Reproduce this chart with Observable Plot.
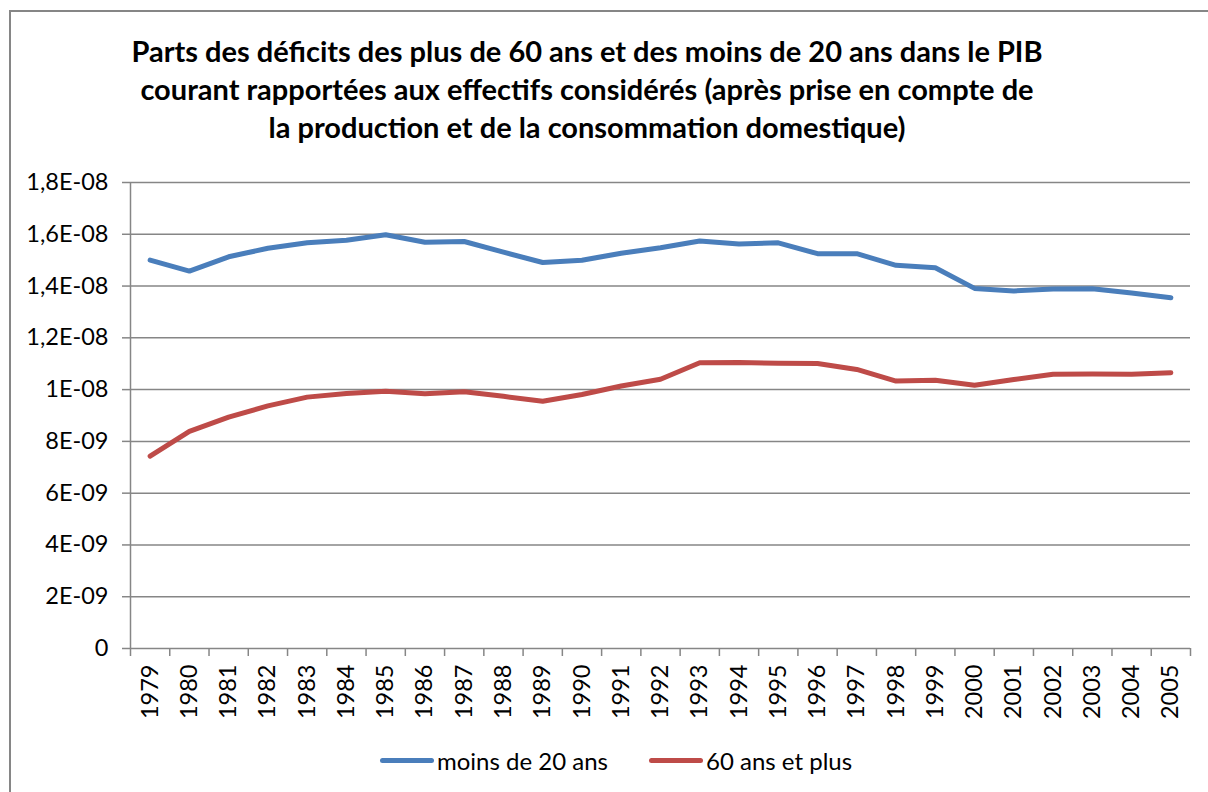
<!DOCTYPE html>
<html>
<head>
<meta charset="utf-8">
<script src="https://cdn.jsdelivr.net/npm/d3@7"></script>
<script src="https://cdn.jsdelivr.net/npm/@observablehq/plot@0.6"></script>
<style>
  html, body { margin: 0; padding: 0; background: #fff; }
  body { width: 1208px; height: 792px; position: relative; overflow: hidden; font-family: Lato, "Noto Sans", sans-serif; }
  #frame { position: absolute; left: 9px; top: 10px; width: 1300px; height: 900px; border-left: 2px solid #868686; border-top: 2px solid #868686; }
  #title { position: absolute; left: 0; top: 32px; width: 1174px; text-align: center; font-weight: bold; font-size: 29px; line-height: 38px; color: #000; }
  #chart { position: absolute; left: 0; top: 160px; }
  #legend { position: absolute; top: 745px; left: 0; width: 1208px; height: 30px; font-size: 24px; color: #000; }
  .item { position: absolute; top: 0; display: flex; align-items: center; height: 30px; }
  .swatch { width: 54px; height: 5px; border-radius: 3px; margin-right: 3px; }
</style>
</head>
<body>
<div id="frame"></div>
<div id="title">Parts des déficits des plus de 60 ans et des moins de 20 ans dans le PIB<br>courant rapportées aux effectifs considérés (après prise en compte de<br>la production et de la consommation domestique)</div>
<div id="chart"></div>
<div id="legend"></div>
<script>
// Années couvertes
const years = [1979, 1980, 1981, 1982, 1983, 1984, 1985, 1986, 1987, 1988, 1989, 1990, 1991, 1992,
               1993, 1994, 1995, 1996, 1997, 1998, 1999, 2000, 2001, 2002, 2003, 2004, 2005];

// Déficit par tête, moins de 20 ans
const moins20 = [1.500e-8, 1.458e-8, 1.513e-8, 1.546e-8, 1.567e-8, 1.577e-8, 1.598e-8, 1.569e-8, 1.572e-8,
                 1.531e-8, 1.491e-8, 1.500e-8, 1.527e-8, 1.548e-8, 1.574e-8, 1.562e-8, 1.567e-8, 1.525e-8,
                 1.525e-8, 1.480e-8, 1.471e-8, 1.391e-8, 1.381e-8, 1.389e-8, 1.390e-8, 1.373e-8, 1.355e-8];

// Déficit par tête, 60 ans et plus
const plus60 = [7.43e-9, 8.39e-9, 8.94e-9, 9.37e-9, 9.71e-9, 9.85e-9, 9.94e-9, 9.84e-9, 9.92e-9,
                9.74e-9, 9.55e-9, 9.81e-9, 1.014e-8, 1.040e-8, 1.104e-8, 1.105e-8, 1.102e-8, 1.101e-8,
                1.078e-8, 1.033e-8, 1.036e-8, 1.017e-8, 1.039e-8, 1.059e-8, 1.060e-8, 1.059e-8, 1.065e-8];

const seriesNames = ["moins de 20 ans", "60 ans et plus"];
const seriesColors = ["#4A7EBB", "#BE4B48"];

// Graduations de l'axe vertical
const yTicks = [0, 2e-9, 4e-9, 6e-9, 8e-9, 1e-8, 1.2e-8, 1.4e-8, 1.6e-8, 1.8e-8];
const yTickLabels = ["0", "2E-09", "4E-09", "6E-09", "8E-09", "1E-08", "1,2E-08", "1,4E-08", "1,6E-08", "1,8E-08"];

const rows = [];
years.forEach((y, i) => {
  rows.push({year: y, value: moins20[i], serie: seriesNames[0]});
  rows.push({year: y, value: plus60[i], serie: seriesNames[1]});
});

// Limites des catégories (graduations de l'axe horizontal)
const bounds = years.map(y => y - 0.5).concat([years[years.length - 1] + 0.5]);
const gridGray = "#868686";

const chart = Plot.plot({
  width: 1208,
  height: 570,
  marginLeft: 130,
  marginRight: 18,
  marginTop: 22,
  marginBottom: 82,
  style: {fontFamily: "Lato, 'Noto Sans', sans-serif", fontSize: "23.5px", color: "#000", background: "transparent"},
  x: {domain: [bounds[0], bounds[bounds.length - 1]]},
  y: {domain: [0, 1.8e-8]},
  color: {domain: seriesNames, range: seriesColors},
  marks: [
    Plot.ruleY(yTicks.slice(1), {stroke: gridGray, strokeWidth: 1.5}),
    Plot.ruleX([bounds[0]], {stroke: gridGray, strokeWidth: 1.5}),
    Plot.ruleY([0], {stroke: gridGray, strokeWidth: 1.5}),
    Plot.axisY({
      ticks: yTicks, tickSize: 8, tickPadding: 14, stroke: gridGray, strokeWidth: 1.5, fill: "#000",
      tickFormat: d => yTickLabels[yTicks.indexOf(d)], label: null
    }),
    Plot.axisX({ticks: bounds, tickSize: 8, tickFormat: () => "", stroke: gridGray, strokeWidth: 1.5, label: null}),
    Plot.axisX({ticks: years, tickSize: 0, tickPadding: 16, tickRotate: -90, tickFormat: d => String(d), fill: "#000", label: null}),
    Plot.line(rows, {x: "year", y: "value", z: "serie", stroke: "serie", strokeWidth: 5, strokeLinejoin: "round", strokeLinecap: "round"})
  ]
});
document.getElementById("chart").appendChild(chart);

// Légende
const legend = document.getElementById("legend");
const legendLeft = [380, 649];
seriesNames.forEach((name, i) => {
  const item = document.createElement("div");
  item.className = "item";
  item.style.left = legendLeft[i] + "px";
  const sw = document.createElement("div");
  sw.className = "swatch";
  sw.style.background = seriesColors[i];
  const label = document.createElement("span");
  label.textContent = name;
  item.appendChild(sw);
  item.appendChild(label);
  legend.appendChild(item);
});
</script>
</body>
</html>
